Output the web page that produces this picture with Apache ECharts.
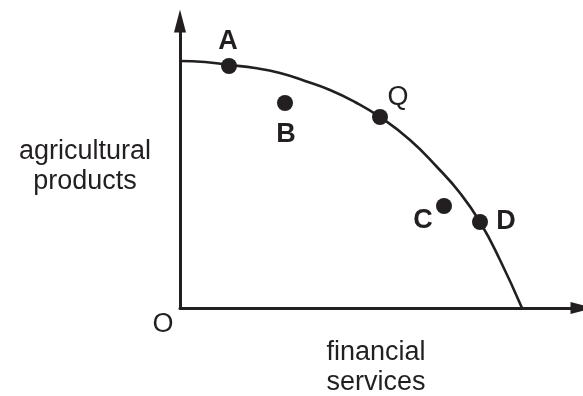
<!DOCTYPE html>
<html>
<head>
<meta charset="utf-8">
<script src="https://cdn.jsdelivr.net/npm/echarts@6/dist/echarts.min.js"></script>
<style>
  html, body { margin: 0; padding: 0; background: #fff; }
  #main { width: 583px; height: 396px; }
</style>
</head>
<body>
<div id="main"></div>
<script>
// production possibility curve, measured from origin O
const curveX = [0, 25, 49, 75, 100, 125, 150, 175, 200, 230, 257, 280, 300, 320, 342]
const curveY = [247, 246, 243, 240, 235, 227, 218, 206, 191, 168, 141, 115, 86, 48, 0]

// labelled points
const pointNames = ['A', 'B', 'Q', 'C', 'D']
const pointX = [49, 105, 200, 264, 300]
const pointY = [242, 205, 191, 102, 86]

const yTitle = 'agricultural\nproducts'
const xTitle = 'financial\nservices'
const originLabel = 'O'

const ink = '#231f20'
const font = "'Liberation Sans', Arial, sans-serif"

// label placement relative to each dot
const labelOffsets = {A: [-1, -24], B: [1, 32], Q: [18, -19], C: [-21, 15], D: [26, 0]}
const boldLabels = ['A', 'B', 'C', 'D']

let chart = echarts.init(document.getElementById('main'))

let option = {
  animation: false,
  grid: {left: 180, right: 1, top: 21, bottom: 88},
  xAxis: {
    type: 'value',
    min: 0,
    max: 402,
    axisLine: {
      show: true,
      symbol: ['none', 'triangle'],
      symbolSize: [12, 23],
      lineStyle: {color: ink, width: 3}
    },
    axisTick: {show: false},
    axisLabel: {show: false},
    splitLine: {show: false}
  },
  yAxis: {
    type: 'value',
    min: 0,
    max: 287,
    axisLine: {
      show: true,
      symbol: ['none', 'triangle'],
      symbolSize: [12, 23],
      lineStyle: {color: ink, width: 3}
    },
    axisTick: {show: false},
    axisLabel: {show: false},
    splitLine: {show: false}
  },
  graphic: [
    {type: 'text', x: 85, y: 167, style: {text: yTitle, font: '27px ' + font, fill: ink, align: 'center', verticalAlign: 'middle', lineHeight: 30}},
    {type: 'text', x: 376, y: 368, style: {text: xTitle, font: '27px ' + font, fill: ink, align: 'center', verticalAlign: 'middle', lineHeight: 30}},
    {type: 'text', x: 163, y: 325, style: {text: originLabel, font: '27px ' + font, fill: ink, align: 'center', verticalAlign: 'middle'}}
  ],
  series: [
    {
      type: 'line',
      data: curveX.map((x, i) => [x, curveY[i]]),
      smooth: 0.5,
      showSymbol: false,
      lineStyle: {color: ink, width: 2.6},
      z: 2
    },
    {
      type: 'scatter',
      symbolSize: 16,
      itemStyle: {color: ink, opacity: 1},
      z: 3,
      data: pointNames.map((name, i) => ({
        name: name,
        value: [pointX[i], pointY[i]],
        label: {
          show: true,
          formatter: '{b}',
          position: 'inside',
          offset: labelOffsets[name],
          color: ink,
          fontFamily: font,
          fontSize: 27,
          fontWeight: boldLabels.includes(name) ? 'bold' : 'normal'
        }
      }))
    }
  ]
}

chart.setOption(option)
</script>
</body>
</html>
